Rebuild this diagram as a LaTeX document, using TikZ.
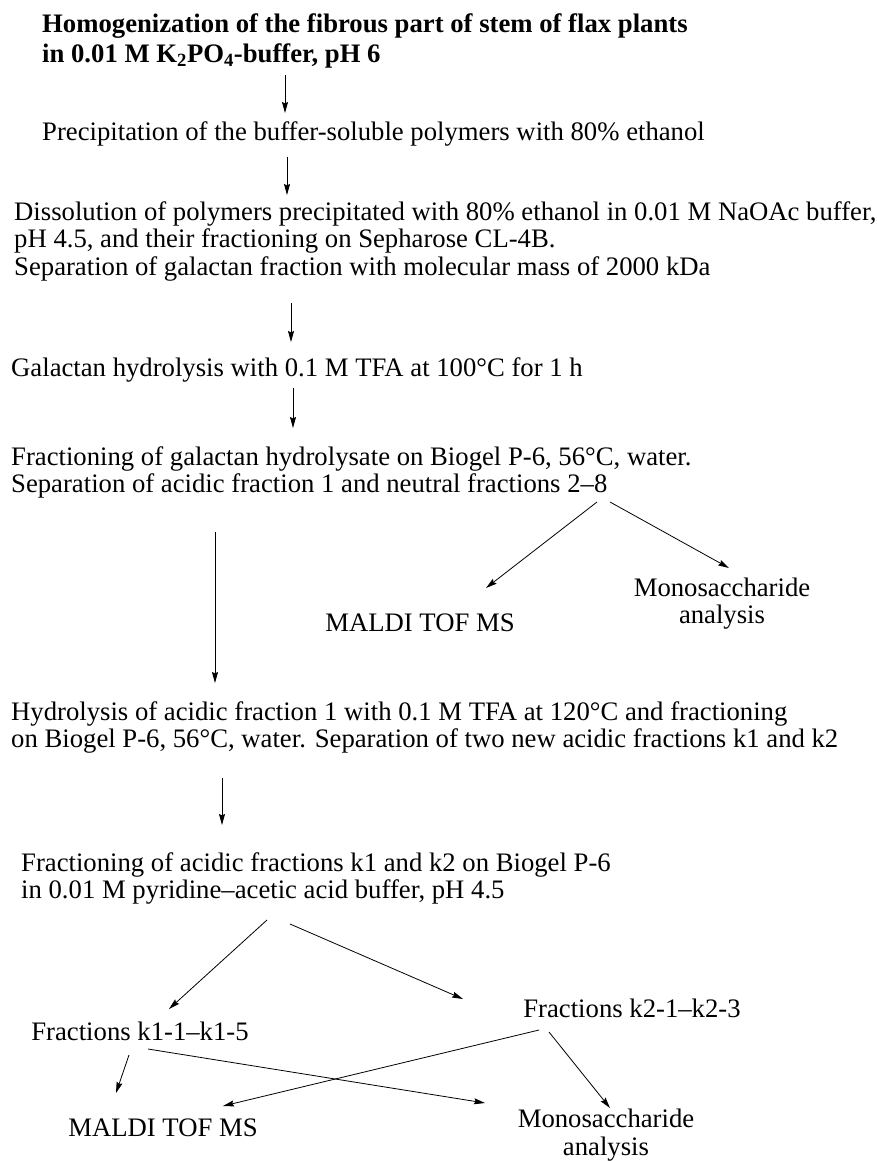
\documentclass[tikz,border=0pt]{standalone}
\usepackage{fontspec}
\setmainfont{Liberation Serif}
\usepackage{tikz}
\usetikzlibrary{arrows.meta}

\begin{document}
\begin{tikzpicture}[
  x=1pt, y=-1pt,
  stage/.style={inner sep=0pt, align=left, anchor=base west,
               font=\fontsize{26.7}{27.5}\selectfont},
  result/.style={inner sep=0pt, align=center, anchor=base,
               font=\fontsize{26.7}{27.5}\selectfont},
  arr/.style={-{Stealth[length=11pt,width=6pt,inset=1.5pt]}, line width=0.8pt}
]
  \useasboundingbox (0,0) rectangle (877,1161);

  % multi-line nodes are placed by the baseline of their last line
  \node[stage, font=\bfseries\fontsize{26.7}{30}\selectfont] (hom) at (42,63)
    {Homogenization of the fibrous part of stem of flax plants\\
     in 0.01 M K\textsubscript{2}PO\textsubscript{4}-buffer, pH 6};
  \node[stage] (prec) at (42,141)
    {Precipitation of the buffer-soluble polymers with 80\% ethanol};
  \node[stage] (diss) at (14,275)
    {Dissolution of polymers precipitated with 80\% ethanol in 0.01 M NaOAc buffer,\\
     pH 4.5, and their fractioning on Sepharose CL-4B.\\
     Separation of galactan fraction with molecular mass of 2000 kDa};
  \node[stage] (gal) at (11,376)
    {Galactan hydrolysis with 0.1 M TFA at 100°C for 1 h};
  \node[stage] (fracg) at (11,492.5)
    {Fractioning of galactan hydrolysate on Biogel P-6, 56°C, water.\\
     Separation of acidic fraction 1 and neutral fractions 2--8};
  \node[result] (mal1) at (420,631) {MALDI TOF MS};
  \node[result] (mono1) at (722,623.5) {Monosaccharide\\ analysis};
  \node[stage] (hyd) at (11,747.5)
    {Hydrolysis of acidic fraction 1 with 0.1 M TFA at 120°C and fractioning\\
     on Biogel P-6, 56°C, water. Separation of two new acidic fractions k1 and k2};
  \node[stage] (frack) at (21,898.5)
    {Fractioning of acidic fractions k1 and k2 on Biogel P-6\\
     in 0.01 M pyridine--acetic acid buffer, pH 4.5};
  \node[result] (k2) at (632,1017) {Fractions k2-1--k2-3};
  \node[result] (k1) at (140,1040) {Fractions k1-1--k1-5};
  \node[result] (mal2) at (163,1136) {MALDI TOF MS};
  \node[result] (mono2) at (606,1155) {Monosaccharide\\ analysis};

  % main line
  \draw[arr] ([shift={(243,12)}]hom.base west) -- ([shift={(243,-28)}]prec.base west);
  \draw[arr] ([shift={(245,16)}]prec.base west) -- ([shift={(273,-80)}]diss.base west);
  \draw[arr] ([shift={(277,28)}]diss.base west) -- ([shift={(280,-34)}]gal.base west);
  \draw[arr] ([shift={(282,12)}]gal.base west) -- ([shift={(282,-64.5)}]fracg.base west);
  \draw[arr] ([shift={(586,9.5)}]fracg.base west) -- ([shift={(66,-43)}]mal1.base);
  \draw[arr] ([shift={(599,9.5)}]fracg.base west) -- ([shift={(7,-55.5)}]mono1.base);
  \draw[arr] ([shift={(204,39.5)}]fracg.base west) -- ([shift={(204,-64.5)}]hyd.base west);
  \draw[arr] ([shift={(211,30.5)}]hyd.base west) -- ([shift={(201,-73.5)}]frack.base west);
  % k1 / k2 branches
  \draw[arr] ([shift={(246,21.5)}]frack.base west) -- ([shift={(29,-31)}]k1.base);
  \draw[arr] ([shift={(269,25.5)}]frack.base west) -- ([shift={(-169,-18)}]k2.base);
  \draw[arr] ([shift={(-11,15)}]k1.base) -- ([shift={(-47,-43)}]mal2.base);
  \draw[arr] ([shift={(8,9)}]k1.base) -- ([shift={(-121,-52)}]mono2.base);
  \draw[arr] ([shift={(-93,13)}]k2.base) -- ([shift={(60,-30)}]mal2.base);
  \draw[arr] ([shift={(-83,15)}]k2.base) -- ([shift={(4,-47)}]mono2.base);
\end{tikzpicture}
\end{document}
